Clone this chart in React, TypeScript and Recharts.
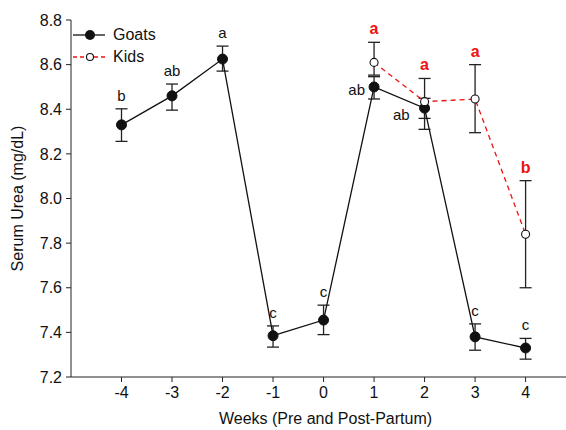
import React from "react";
import { LineChart, Line, XAxis, YAxis, ErrorBar } from "recharts";

const weeks = [-4, -3, -2, -1, 0, 1, 2, 3, 4];
const goatsMean = [8.33, 8.46, 8.625, 7.385, 7.455, 8.5, 8.405, 7.38, 7.33];
const goatsLow = [8.256, 8.396, 8.571, 7.334, 7.39, 8.446, 8.359, 7.32, 7.28];
const goatsHigh = [8.402, 8.513, 8.683, 7.429, 7.522, 8.546, 8.449, 7.438, 7.373];
const goatsLetters = ["b", "ab", "a", "c", "c", "ab", "ab", "c", "c"];

const kidsMean = [null, null, null, null, null, 8.61, 8.434, 8.446, 7.84];
const kidsLow = [null, null, null, null, null, 8.553, 8.31, 8.295, 7.6];
const kidsHigh = [null, null, null, null, null, 8.7, 8.538, 8.6, 8.08];
const kidsLetters = [null, null, null, null, null, "a", "a", "a", "b"];

const yTicks = [7.2, 7.4, 7.6, 7.8, 8.0, 8.2, 8.4, 8.6, 8.8];

const rows = weeks.map((w, i) => ({
  week: w,
  goats: goatsMean[i],
  goatsErr: [goatsMean[i] - goatsLow[i], goatsHigh[i] - goatsMean[i]],
  goatsTop: goatsHigh[i],
  kids: kidsMean[i],
  kidsErr:
    kidsMean[i] == null ? undefined : [kidsMean[i]! - kidsLow[i]!, kidsHigh[i]! - kidsMean[i]!],
  kidsTop: kidsHigh[i],
}));

const font = "'Liberation Sans', Arial, sans-serif";

// letters beside the point (weeks 1 and 2 for goats)
const sideLabel: Record<number, { dx: number; dy: number }> = {
  5: { dx: -9, dy: 8 },
  6: { dx: -15, dy: 12 },
};

const goatTopLabel = (p: any) => {
  if (p.index in sideLabel || p.x == null || p.y == null) return null;
  return (
    <text key={"gt" + p.index} x={p.x} y={p.y - 8} textAnchor="middle" fontSize={15} fontFamily={font} fill="#111">
      {goatsLetters[p.index]}
    </text>
  );
};

const goatSideLabel = (p: any) => {
  const s = sideLabel[p.index];
  if (!s || p.x == null || p.y == null) return null;
  return (
    <text key={"gs" + p.index} x={p.x + s.dx} y={p.y + s.dy} textAnchor="end" fontSize={15} fontFamily={font} fill="#111">
      {goatsLetters[p.index]}
    </text>
  );
};

const kidLabel = (p: any) => {
  const t = kidsLetters[p.index];
  if (!t || p.x == null || p.y == null) return null;
  return (
    <text key={"k" + p.index} x={p.x} y={p.y - 8} textAnchor="middle" fontSize={16} fontWeight="bold" fontFamily={font} fill="#ee1111">
      {t}
    </text>
  );
};

function LegendBox() {
  return (
    <div style={{ position: "absolute", left: 72, top: 24, fontFamily: font, fontSize: 16, color: "#111", lineHeight: "22px" }}>
      <div style={{ display: "flex", alignItems: "center", height: 22 }}>
        <svg width={41} height={14}>
          <line x1={1} y1={7} x2={33} y2={7} stroke="#111" strokeWidth={1.3} />
          <circle cx={18} cy={7} r={5} fill="#111" />
        </svg>
        <span>Goats</span>
      </div>
      <div style={{ display: "flex", alignItems: "center", height: 22 }}>
        <svg width={41} height={14}>
          <line x1={1} y1={7} x2={33} y2={7} stroke="#ee1111" strokeWidth={1.3} strokeDasharray="4 3" />
          <circle cx={18} cy={7} r={3.5} fill="#fff" stroke="#111" strokeWidth={1.1} />
        </svg>
        <span>Kids</span>
      </div>
    </div>
  );
}

export default function App() {
  return (
    <div style={{ position: "absolute", left: 0, top: 0, width: 566, height: 430, background: "#fff" }}>
      <LineChart width={566} height={430} data={rows} margin={{ top: 20, right: 0, left: 0, bottom: 0 }}>
        <XAxis
          dataKey="week"
          type="number"
          domain={[-5, 4.8]}
          ticks={weeks}
          allowDataOverflow
          height={53}
          tickSize={5}
          tickMargin={5}
          stroke="#222"
          tick={{ fill: "#111", fontSize: 16, fontFamily: font }}
          label={{ value: "Weeks (Pre and Post-Partum)", position: "insideBottom", offset: 6, dx: 7, fill: "#111", fontSize: 16, fontFamily: font }}
        />
        <YAxis
          type="number"
          domain={[7.2, 8.8]}
          ticks={yTicks}
          width={71}
          tickSize={5}
          tickMargin={4}
          stroke="#222"
          tickFormatter={(v: number) => v.toFixed(1)}
          tick={{ fill: "#111", fontSize: 16, fontFamily: font }}
          label={{ value: "Serum Urea (mg/dL)", angle: -90, position: "insideLeft", offset: 17, style: { textAnchor: "middle" }, fill: "#111", fontSize: 16, fontFamily: font }}
        />
        <Line dataKey="goatsTop" stroke="none" dot={false} activeDot={false} isAnimationActive={false} legendType="none" label={goatTopLabel} />
        <Line dataKey="kidsTop" stroke="none" dot={false} activeDot={false} isAnimationActive={false} legendType="none" label={kidLabel} />
        <Line
          dataKey="goats"
          stroke="#111"
          strokeWidth={1.3}
          dot={{ r: 5, fill: "#111", stroke: "#111", strokeWidth: 1 }}
          activeDot={false}
          isAnimationActive={false}
          label={goatSideLabel}
        >
          <ErrorBar dataKey="goatsErr" width={6} stroke="#222" strokeWidth={1.3} direction="y" />
        </Line>
        <Line
          dataKey="kids"
          stroke="#ee1111"
          strokeWidth={1.3}
          strokeDasharray="5 4"
          dot={false}
          activeDot={false}
          isAnimationActive={false}
        >
          <ErrorBar dataKey="kidsErr" width={6} stroke="#222" strokeWidth={1.3} direction="y" />
        </Line>
        {/* open circles on top of the kids error bars */}
        <Line
          dataKey="kids"
          stroke="none"
          dot={{ r: 4, fill: "#fff", stroke: "#111", strokeWidth: 1.1 }}
          activeDot={false}
          isAnimationActive={false}
          legendType="none"
        />
      </LineChart>
      <LegendBox />
    </div>
  );
}
